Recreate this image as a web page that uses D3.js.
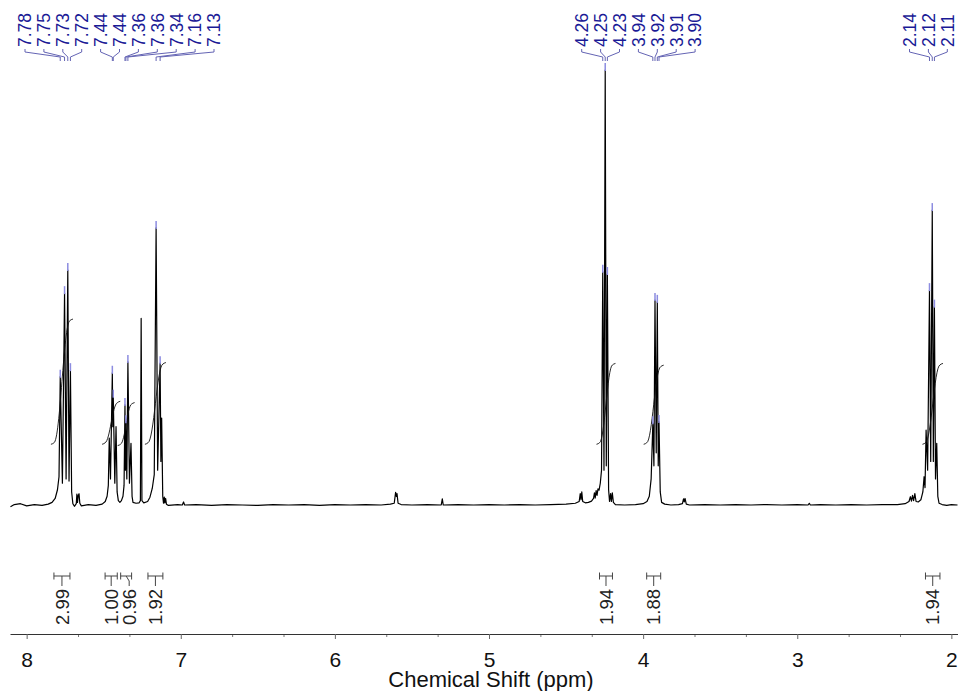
<!DOCTYPE html>
<html>
<head>
  <meta charset="utf-8">
  <title>1H NMR</title>
  <style>
    html, body { margin: 0; padding: 0; background: #fff; }
    svg { display: block; font-family: "Liberation Sans", Arial, sans-serif; }
  </style>
</head>
<body>

<svg width="958" height="691" viewBox="0 0 958 691"></svg>

<script src="https://d3js.org/d3.v7.min.js"></script>
<script>
// spectrum trace: [ppm, intensity], tallest line = 100
const spectrum = [
  [8.105, -0.4], [8.08, 0.1], [8.04, 0.3], [8.00, -0.2], [7.95, 0.1], [7.90, -0.1], [7.86, 0.2],
  [7.835, 0.6], [7.815, 1.5], [7.800, 3.5], [7.790, 6.5],
  [7.782, 29.5], [7.768, 5.0], [7.754, 48.7], [7.744, 6.0], [7.733, 54.0], [7.725, 5.5], [7.716, 31.0],
  [7.708, 3.0], [7.700, 0.3], [7.690, -0.3], [7.678, 0.3], [7.674, 2.5], [7.670, 0.6], [7.665, 2.2],
  [7.660, 2.6], [7.655, 0.4], [7.645, -0.2],
  [7.60, 0.1], [7.55, -0.1], [7.51, 0.2], [7.49, 0.8], [7.478, 2.0], [7.470, 4.5],
  [7.464, 15.4], [7.456, 6.0], [7.444, 30.4], [7.441, 18.0], [7.438, 24.9], [7.428, 5.0], [7.420, 18.0],
  [7.413, 3.0], [7.405, 1.0], [7.395, 0.6], [7.385, 1.0], [7.375, 2.0], [7.368, 4.5],
  [7.362, 23.0], [7.359, 8.0], [7.356, 19.0], [7.350, 6.0], [7.343, 32.9], [7.333, 5.0], [7.323, 14.2],
  [7.316, 2.0], [7.310, 0.6], [7.290, 0.4], [7.270, 0.5], [7.262, 1.0],
  [7.257, 42.9], [7.252, 1.0], [7.240, 0.5], [7.215, 0.8], [7.200, 1.8], [7.185, 3.8], [7.172, 7.0],
  [7.160, 63.7], [7.150, 8.0], [7.134, 32.6], [7.129, 10.0], [7.124, 20.0],
  [7.117, 2.0], [7.112, 0.4], [7.107, 1.8], [7.103, 0.5], [7.098, 1.5], [7.093, 0.2], [7.080, -0.1],
  [7.02, 0.1], [6.99, 0.0], [6.982, 0.7], [6.975, 0.0], [6.90, 0.1], [6.80, -0.1], [6.70, 0.1],
  [6.60, 0.0], [6.50, -0.1], [6.40, 0.1], [6.30, 0.0], [6.20, 0.1], [6.10, -0.1], [6.00, 0.1],
  [5.90, 0.0], [5.80, 0.1], [5.70, 0.0], [5.64, 0.2],
  [5.615, 0.4], [5.606, 2.9], [5.601, 2.0], [5.597, 2.6], [5.590, 0.4], [5.570, 0.1],
  [5.50, 0.0], [5.40, 0.1], [5.31, 0.0], [5.303, 1.4], [5.297, 0.0],
  [5.20, 0.1], [5.10, 0.0], [5.00, 0.1], [4.90, 0.0], [4.80, 0.1], [4.70, 0.0], [4.60, 0.1],
  [4.50, 0.2], [4.44, 0.4],
  [4.415, 0.8], [4.408, 2.6], [4.403, 1.2], [4.398, 3.0], [4.392, 0.8], [4.375, 0.5], [4.355, 0.6],
  [4.335, 0.9], [4.322, 1.5], [4.316, 2.8], [4.311, 1.6], [4.305, 3.3], [4.299, 2.2], [4.293, 3.7],
  [4.286, 3.4], [4.278, 5.0], [4.270, 8.0],
  [4.262, 53.6], [4.254, 8.0], [4.246, 100], [4.239, 9.0], [4.232, 53.1],
  [4.224, 3.5], [4.218, 0.8], [4.211, 2.6], [4.206, 0.8], [4.200, 2.8], [4.193, 0.6], [4.180, 0.1],
  [4.12, 0.0], [4.05, 0.1], [4.00, 0.3], [3.975, 0.8], [3.960, 2.0], [3.948, 6.0],
  [3.937, 18.8], [3.930, 9.0], [3.923, 47.1], [3.915, 12.0], [3.908, 46.7], [3.902, 9.0], [3.897, 19.1],
  [3.889, 3.0], [3.880, 0.6], [3.860, 0.2], [3.82, 0.0], [3.77, 0.1], [3.745, 0.3], [3.738, 1.4],
  [3.733, 0.7], [3.728, 1.5], [3.720, 0.2], [3.70, 0.0],
  [3.60, 0.1], [3.50, 0.0], [3.40, 0.1], [3.30, 0.0], [3.20, 0.1], [3.10, 0.0], [3.00, 0.1],
  [2.93, 0.0], [2.922, 0.4], [2.915, 0.0], [2.85, 0.1],
  [2.75, 0.0], [2.65, 0.1], [2.55, 0.0], [2.45, 0.1], [2.35, 0.1], [2.30, 0.3], [2.275, 0.8],
  [2.266, 1.9], [2.259, 0.9], [2.252, 2.2], [2.245, 1.0], [2.237, 2.6], [2.229, 0.8], [2.215, 0.7],
  [2.198, 1.2], [2.185, 3.0],
  [2.177, 6.5], [2.171, 4.0], [2.164, 17.2], [2.154, 8.0], [2.142, 49.4], [2.134, 10.0], [2.124, 67.8],
  [2.117, 10.0], [2.110, 45.6], [2.103, 6.0], [2.095, 14.2],
  [2.088, 2.0], [2.080, 0.4], [2.06, 0.1], [2.03, -0.1], [2.00, 0.1], [1.96, 0.0]
];

// picked peaks (labels on top)
const peakPpm = [7.782, 7.754, 7.733, 7.716, 7.444, 7.438, 7.362, 7.356, 7.343, 7.160, 7.134,
  4.262, 4.246, 4.232, 3.937, 3.923, 3.908, 3.897, 2.142, 2.124, 2.110];
const peakText = ['7.78', '7.75', '7.73', '7.72', '7.44', '7.44', '7.36', '7.36', '7.34', '7.16', '7.13',
  '4.26', '4.25', '4.23', '3.94', '3.92', '3.91', '3.90', '2.14', '2.12', '2.11'];
const peakGroup = [0, 0, 0, 0, 0, 0, 0, 0, 0, 0, 0, 1, 1, 1, 1, 1, 1, 1, 2, 2, 2];

// integrals
const integralFrom = [7.823, 7.491, 7.390, 7.213, 4.283, 3.977, 2.168];
const integralTo = [7.719, 7.412, 7.319, 7.116, 4.199, 3.886, 2.074];
const integralValue = ['2.99', '1.00', '0.96', '1.92', '1.94', '1.88', '1.94'];
const integralLow = [14.3, 14.3, 14.0, 14.3, 14.3, 14.3, 14.3];
const integralHigh = [42.4, 23.5, 23.2, 32.4, 32.2, 31.8, 32.2];

const xTicks = [8, 7, 6, 5, 4, 3, 2];
const xTitle = 'Chemical Shift (ppm)';

// ---

const svg = d3.select('svg');
const labelBlue = '#1a1a96';
const linkBlue = '#6464b4';
const markBlue = '#8c8ce0';

const x = d3.scaleLinear().domain([8.108, 1.957]).range([10, 958]);
const y = d3.scaleLinear().domain([0, 100]).range([505, 70]);

// spectrum
const line = d3.line()
  .x(d => x(d[0]))
  .y(d => y(d[1]));

svg.append('path')
  .datum(spectrum)
  .attr('d', line)
  .attr('fill', 'none')
  .attr('stroke', '#000')
  .attr('stroke-width', 1.2)
  .attr('stroke-linejoin', 'round');

// integral curves
integralFrom.forEach((f, i) => {
  const x0 = x(f), x1 = x(integralTo[i]);
  const y0 = y(integralLow[i]), y1 = y(integralHigh[i]);
  const dx = x1 - x0;
  const path = d3.path();
  path.moveTo(x0 - 3, y0 + 1.5);
  path.quadraticCurveTo(x0 - 1, y0 + 1, x0, y0);
  path.bezierCurveTo(x0 + dx * 0.4, y0 - 2, x1 - dx * 0.4, y1 + 2, x1, y1);
  path.quadraticCurveTo(x1 + 1, y1 - 1, x1 + 3, y1 - 1.5);
  svg.append('path')
    .attr('d', path.toString())
    .attr('fill', 'none')
    .attr('stroke', '#111')
    .attr('stroke-width', 0.9);
});

// peak markers on top of the picked lines
const nearest = p => spectrum.reduce((a, b) => Math.abs(b[0] - p) < Math.abs(a[0] - p) ? b : a);
svg.selectAll('.mark').data(peakPpm).enter()
  .append('line')
    .attr('class', 'mark')
    .attr('x1', d => x(d)).attr('x2', d => x(d))
    .attr('y1', d => y(nearest(d)[1]) - 7)
    .attr('y2', d => y(nearest(d)[1]) + 1)
    .attr('stroke', markBlue)
    .attr('stroke-width', 1.5);

// peak labels, spread out per group
const labelStart = [25, 581.7, 909.5];
const labelStep = 18.9;
const labelX = peakPpm.map((p, i) => {
  const g = peakGroup[i];
  const k = peakGroup.slice(0, i).filter(v => v === g).length;
  return labelStart[g] + k * labelStep;
});

svg.selectAll('.plink').data(peakPpm).enter()
  .append('path')
    .attr('class', 'plink')
    .attr('d', (d, i) => `M${labelX[i]},49V52L${x(d)},57V61`)
    .attr('fill', 'none')
    .attr('stroke', linkBlue)
    .attr('stroke-width', 1);

svg.selectAll('.plabel').data(peakText).enter()
  .append('text')
    .attr('class', 'plabel')
    .attr('transform', (d, i) => `translate(${labelX[i]},47) rotate(-90)`)
    .attr('dy', '0.36em')
    .attr('font-size', '17.5px')
    .attr('fill', labelBlue)
    .text(d => d);

// integral labels below the trace
let prevX = -100;
const intX = integralFrom.map((f, i) => {
  let c = (x(f) + x(integralTo[i])) / 2;
  if (c < prevX + 18) c = prevX + 18;
  prevX = c;
  return c;
});

integralFrom.forEach((f, i) => {
  const a = x(f), b = x(integralTo[i]), c = (a + b) / 2;
  const g = svg.append('g')
    .attr('stroke', '#444')
    .attr('stroke-width', 1)
    .attr('fill', 'none');
  g.append('path').attr('d', `M${a},572.5V579.5M${a},576H${b}M${b},572.5V579.5`);
  g.append('path').attr('d', `M${c},576L${intX[i]},581V586`);
  svg.append('text')
    .attr('transform', `translate(${intX[i]},625) rotate(-90)`)
    .attr('dy', '0.36em')
    .attr('font-size', '18.5px')
    .attr('fill', '#222')
    .text(integralValue[i]);
});

// x axis
const minor = d3.range(2, 8.01, 1 / 3).filter(v => Math.abs(v - Math.round(v)) > 0.01);
const axisY = 634;

svg.append('g')
  .attr('transform', `translate(0,${axisY})`)
  .call(d3.axisBottom(x).tickValues(minor).tickSize(3).tickFormat(''))
  .call(g => g.select('.domain').remove())
  .call(g => g.selectAll('line').attr('stroke', '#777'));

const ax = svg.append('g')
  .attr('transform', `translate(0,${axisY})`)
  .call(d3.axisBottom(x).tickValues(xTicks).tickSize(5).tickSizeOuter(0).tickFormat(d3.format('d')));
ax.select('.domain').attr('stroke', '#333');
ax.selectAll('.tick line').attr('stroke', '#666');
ax.selectAll('.tick text')
  .attr('y', 32.5)
  .attr('dy', 0)
  .attr('font-size', '21px')
  .attr('font-family', '"Liberation Sans", Arial, sans-serif')
  .attr('fill', '#111');

svg.append('text')
  .attr('x', 491)
  .attr('y', 686.5)
  .attr('text-anchor', 'middle')
  .attr('font-size', '22px')
  .attr('fill', '#111')
  .text(xTitle);
</script>

</body>
</html>
